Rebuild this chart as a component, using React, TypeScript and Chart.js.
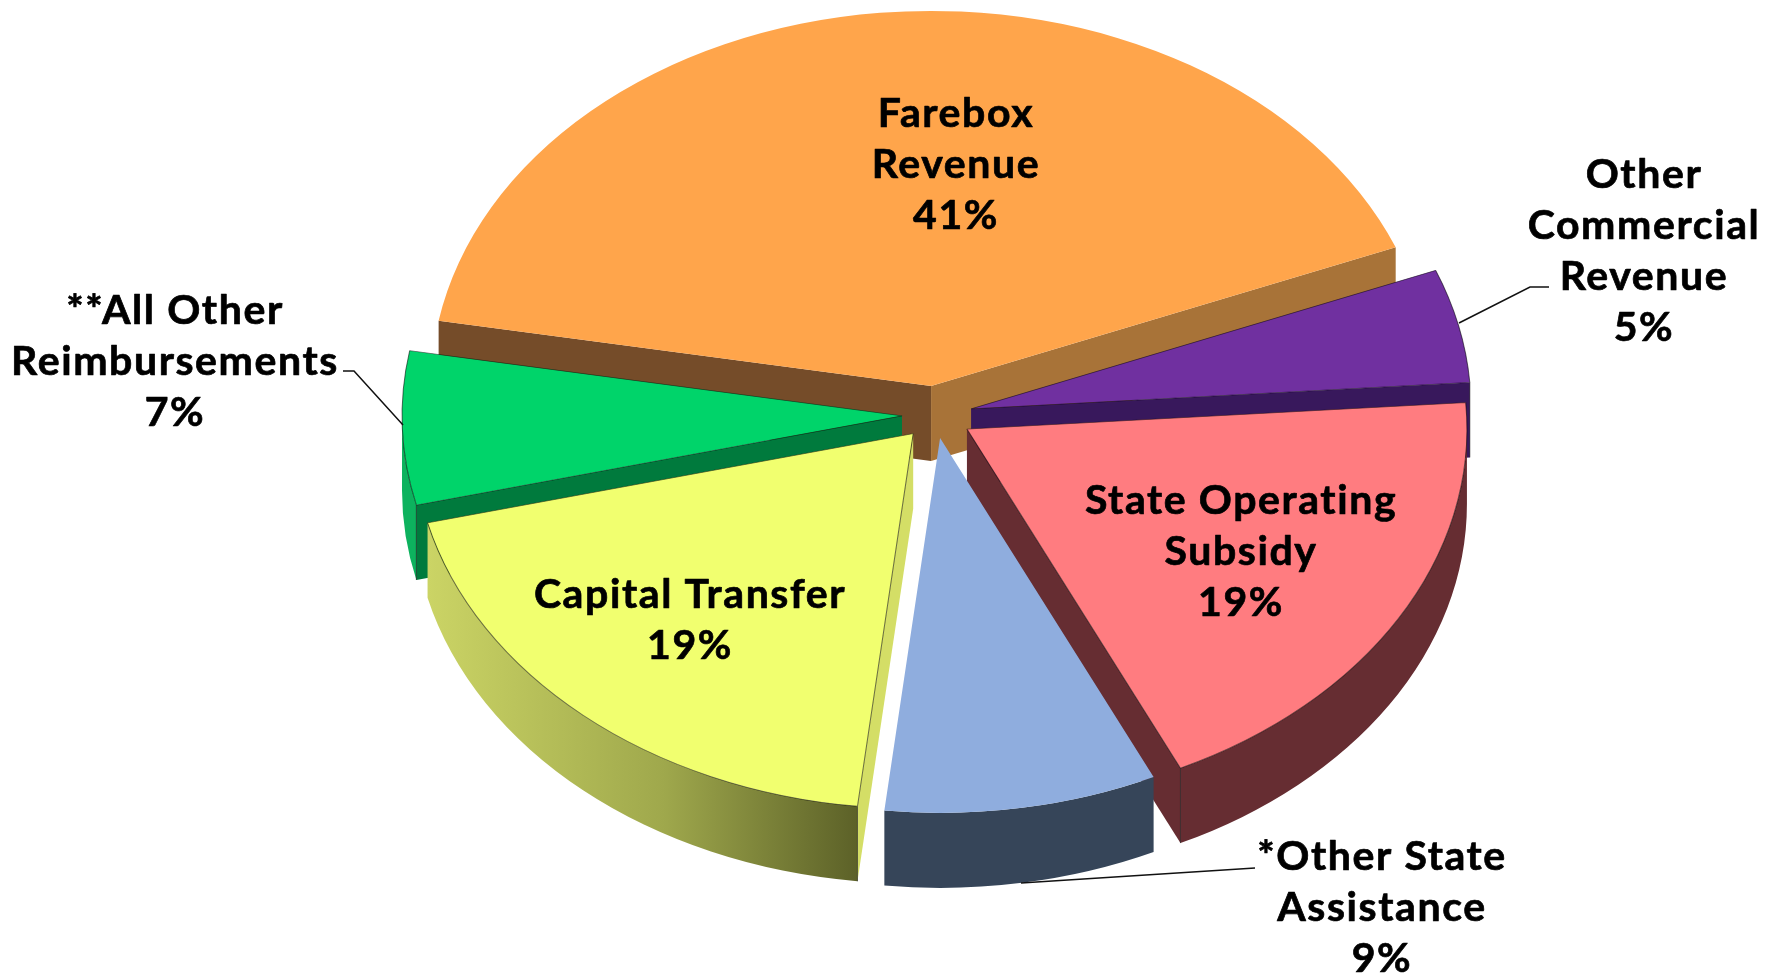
import React, { useEffect, useRef } from "react";
import { Chart, registerables } from "chart.js";

Chart.register(...registerables);

const categories = [
  ["Farebox", "Revenue"],
  ["Other", "Commercial", "Revenue"],
  ["State Operating", "Subsidy"],
  ["*Other State", "Assistance"],
  ["Capital Transfer"],
  ["**All Other", "Reimbursements"],
];
const shares = [41.2, 4.9, 19.1, 8.8, 19.4, 6.6];

const topColors = ["#FFA54B", "#7030A0", "#FF7C80", "#8FADDE", "#F1FF6F", "#00D46A"];
const borderWidths = [0, 1, 1, 0, 1, 1];
const outerWallColors = ["#A87338", "#38185C", "#662D32", "#364559", "#C8D060", "#0DB25E"];
const startFaceColors = ["#754C29", "#38185C", "#662D32", "#364559", "#D4DE66", "#007A3D"];
const endFaceColors = ["#A87338", "#38185C", "#662D32", "#364559", "#C8D060", "#007A3D"];
const explode = [39, 37, 37, 31, 33, 33];
const drawOrder = [0, 1, 5, 4, 2, 3];

const CENTER_X = 935;
const CENTER_Y = 415;
const RADIUS = 500;
const TILT = 0.75;
const DEPTH = 75;
const START_ANGLE = -80;

const FONT = 'bold 41px Lato, "Noto Sans", sans-serif';
const LINE_HEIGHT = 51;
const labelAnchors = [
  [956, 114],
  [1644, 175],
  [1241, 501],
  [1382, 857],
  [690, 595],
  [175, 311],
];
const leaderLines = [
  [[1459, 323], [1530, 287], [1549, 287]],
  [[343, 371], [354, 371], [403, 425]],
  [[1021, 883], [1255, 868]],
];

const pie3d = {
  id: "pie3d",
  beforeDatasetDraw(chart: any) {
    const ctx = chart.ctx;
    const arcs = chart.getDatasetMeta(0).data;
    for (const i of drawOrder) {
      const arc = arcs[i];
      const { startAngle: a0, endAngle: a1, outerRadius } = arc;
      const mid = (a0 + a1) / 2;
      const cx = CENTER_X + explode[i] * Math.cos(mid);
      const cy = CENTER_Y + explode[i] * TILT * Math.sin(mid);
      const px = (a: number) => cx + RADIUS * Math.cos(a);
      const py = (a: number) => cy + RADIUS * TILT * Math.sin(a);
      const outline = borderWidths[i] > 0;

      ctx.save();
      ctx.lineWidth = 1;
      ctx.strokeStyle = "rgba(0,0,0,0.55)";

      // Only the front part of the rim can be seen
      const w0 = Math.max(a0, 0);
      const w1 = Math.min(a1, Math.PI);
      if (w1 > w0) {
        ctx.beginPath();
        ctx.ellipse(cx, cy, RADIUS, RADIUS * TILT, 0, w0, w1);
        ctx.ellipse(cx, cy + DEPTH, RADIUS, RADIUS * TILT, 0, w1, w0, true);
        ctx.closePath();
        if (i === 4) {
          const g = ctx.createLinearGradient(px(a1), 0, px(a0), 0);
          g.addColorStop(0, "#CBD465");
          g.addColorStop(0.55, "#9FA84C");
          g.addColorStop(1, "#5C6128");
          ctx.fillStyle = g;
        } else {
          ctx.fillStyle = outerWallColors[i];
        }
        ctx.fill();
      }

      // Cut faces, only those that turn towards the viewer
      const face = (a: number, color: string) => {
        ctx.beginPath();
        ctx.moveTo(cx, cy);
        ctx.lineTo(px(a), py(a));
        ctx.lineTo(px(a), py(a) + DEPTH);
        ctx.lineTo(cx, cy + DEPTH);
        ctx.closePath();
        ctx.fillStyle = color;
        ctx.fill();
        if (outline) {
          ctx.beginPath();
          ctx.moveTo(px(a), py(a));
          ctx.lineTo(px(a), py(a) + DEPTH);
          ctx.stroke();
        }
      };
      if (Math.cos(a0) < 0) face(a0, startFaceColors[i]);
      if (Math.cos(a1) > 0) face(a1, endFaceColors[i]);

      const k = RADIUS / outerRadius;
      ctx.translate(cx, cy);
      ctx.scale(k, k * TILT);
      ctx.translate(-arc.x, -arc.y);
      arc.draw(ctx);
      ctx.restore();
    }
    return false;
  },
  afterDraw(chart: any) {
    const ctx = chart.ctx;
    ctx.save();
    ctx.strokeStyle = "#111";
    ctx.lineWidth = 1.5;
    for (const line of leaderLines) {
      ctx.beginPath();
      line.forEach(([x, y], n) => (n ? ctx.lineTo(x, y) : ctx.moveTo(x, y)));
      ctx.stroke();
    }
    ctx.fillStyle = "#000";
    ctx.strokeStyle = "#000";
    ctx.lineWidth = 0.7;
    ctx.lineJoin = "round";
    ctx.font = FONT;
    ctx.textAlign = "center";
    ctx.textBaseline = "middle";
    (ctx as any).letterSpacing = "1.6px";
    categories.forEach((lines, i) => {
      const [x, y] = labelAnchors[i];
      [...lines, `${Math.round(shares[i])}%`].forEach((text, n) => {
        ctx.fillText(text, x, y + n * LINE_HEIGHT);
        ctx.strokeText(text, x, y + n * LINE_HEIGHT);
      });
    });
    ctx.restore();
  },
};

export default function App() {
  const ref = useRef<HTMLCanvasElement | null>(null);
  useEffect(() => {
    const chart = new Chart(ref.current as HTMLCanvasElement, {
      type: "pie",
      data: {
        labels: categories.map((c) => c.join(" ")),
        datasets: [
          {
            data: shares,
            backgroundColor: topColors,
            borderColor: "rgba(0,0,0,0.55)",
            borderWidth: borderWidths,
            offset: 0,
            hoverOffset: 0,
          },
        ],
      },
      options: {
        responsive: false,
        animation: false,
        rotation: START_ANGLE,
        layout: { padding: 0 },
        plugins: { legend: { display: false }, tooltip: { enabled: false } },
      },
      plugins: [pie3d],
    } as any);
    return () => chart.destroy();
  }, []);
  return (
    <div style={{ position: "absolute", left: 0, top: 0, width: 1783, height: 973, background: "#fff" }}>
      <canvas ref={ref} width={1783} height={973} style={{ display: "block" }} />
    </div>
  );
}
